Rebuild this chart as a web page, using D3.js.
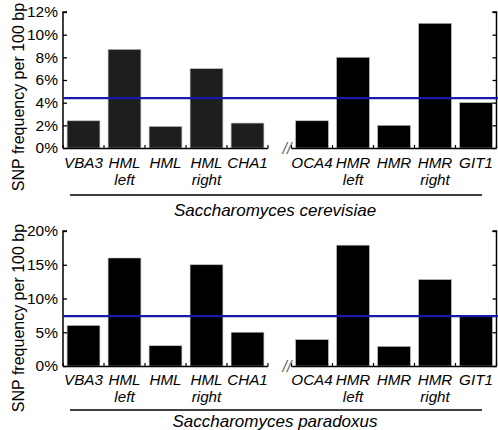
<!DOCTYPE html>
<html><head><meta charset="utf-8">
<script src="https://cdn.jsdelivr.net/npm/d3@7"></script>
<style>body{margin:0;background:#fff}svg{display:block}text{font-family:"Liberation Sans",Arial,sans-serif}</style>
</head><body><svg id="c" width="498" height="430"></svg>
<script>
const groupA = ["VBA3","HML left","HML","HML right","CHA1"];
const groupB = ["OCA4","HMR left","HMR","HMR right","GIT1"];
const labelLines = {"VBA3":["VBA3"],"HML left":["HML","left"],"HML":["HML"],"HML right":["HML","right"],"CHA1":["CHA1"],
  "OCA4":["OCA4"],"HMR left":["HMR","left"],"HMR":["HMR"],"HMR right":["HMR","right"],"GIT1":["GIT1"]};
const cerevisiaeA = [2.4, 8.7, 1.9, 7.0, 2.2];
const cerevisiaeB = [2.4, 8.0, 2.0, 11.0, 4.0];
const cerevisiaeMean = 4.4;
const paradoxusA = [6.0, 16.0, 3.0, 15.0, 5.0];
const paradoxusB = [3.9, 17.9, 2.9, 12.8, 7.5];
const paradoxusMean = 7.4;
const ticksTop = [0,2,4,6,8,10,12];
const ticksBottom = [0,5,10,15,20];
const speciesNames = ["Saccharomyces cerevisiae","Saccharomyces paradoxus"];
const yTitle = "SNP frequency per 100 bp";

const svg = d3.select("#c");
const xA = d3.scaleBand().domain(groupA).range([63,268]).paddingInner(0.2).paddingOuter(0.1);
const xB = d3.scaleBand().domain(groupB).range([291.5,496.5]).paddingInner(0.2).paddingOuter(0.1);

function panel(cfg){
  const g = svg.append("g");
  const y = d3.scaleLinear().domain([0,cfg.max]).range([cfg.y0,cfg.y1]);
  [[xA,groupA,cfg.a,cfg.colA],[xB,groupB,cfg.b,cfg.colB]].forEach(([x,cats,vals,col])=>{
    g.selectAll(null).data(cats).enter().append("rect")
      .attr("x",d=>x(d)).attr("width",x.bandwidth())
      .attr("y",(d,i)=>y(vals[i])).attr("height",(d,i)=>y(0)-y(vals[i]))
      .attr("fill",col).attr("stroke","#bbb").attr("stroke-width",0.6);
    const r = x.range();
    g.append("line").attr("x1",r[0]).attr("x2",r[1]).attr("y1",y(0)+0.5).attr("y2",y(0)+0.5)
      .attr("stroke","#000").attr("stroke-width",1.5);
    const bounds = cats.map(d=>x(d)-x.step()*x.paddingInner()/2).concat([r[1]]);
    g.selectAll(null).data(bounds).enter().append("line")
      .attr("x1",d=>d).attr("x2",d=>d).attr("y1",y(0)+0.5).attr("y2",y(0)-3)
      .attr("stroke","#000").attr("stroke-width",1.2);
    cats.forEach(d=>{
      const t = g.append("text").attr("x",x(d)+x.bandwidth()/2).attr("y",cfg.lab)
        .attr("text-anchor","middle").attr("font-size",15.2).attr("font-style","italic");
      labelLines[d].forEach((s,i)=>t.append("tspan").attr("x",x(d)+x.bandwidth()/2).attr("dy",i?16.5:0).text(s));
    });
  });
  const ax = g.append("g").attr("transform","translate(63,0)")
    .call(d3.axisRight(y).tickValues(cfg.ticks).tickSize(4).tickFormat(d=>d+"%"));
  ax.select(".domain").attr("stroke-width",1.5).attr("d",`M4,${cfg.y1}H0V${cfg.y0}`);
  ax.selectAll(".tick line").attr("stroke-width",1.3);
  ax.selectAll(".tick text").attr("x",-5).attr("text-anchor","end").attr("font-size",15.5)
    .attr("font-family","Liberation Sans, Arial, sans-serif").attr("fill","#000");
  const ax2 = g.append("g").attr("transform","translate(496.5,0)")
    .call(d3.axisLeft(y).tickValues(cfg.ticks).tickSize(4).tickFormat(""));
  ax2.select(".domain").attr("stroke-width",1.5).attr("d",`M-4,${cfg.y1}H0V${cfg.y0}`);
  ax2.selectAll(".tick line").attr("stroke-width",1.3);
  g.append("line").attr("x1",63).attr("x2",498).attr("y1",y(cfg.mean)).attr("y2",y(cfg.mean))
    .attr("stroke","#1a1aaa").attr("stroke-width",2.2);
  g.append("text").attr("x",287).attr("y",y(0)+6).attr("text-anchor","middle")
    .attr("font-size",16).attr("font-style","italic").attr("fill","#666").text("//");
  g.append("line").attr("x1",70).attr("x2",482).attr("y1",cfg.under).attr("y2",cfg.under)
    .attr("stroke","#000").attr("stroke-width",1.5);
  g.append("text").attr("x",275).attr("y",cfg.sp).attr("text-anchor","middle")
    .attr("font-size",17).attr("font-style","italic").text(cfg.species);
  g.append("text").attr("transform",`translate(24,${cfg.tc}) rotate(-90)`).attr("text-anchor","middle")
    .attr("font-size",16).text(yTitle);
}
panel({max:12,y0:148,y1:12,a:cerevisiaeA,b:cerevisiaeB,mean:cerevisiaeMean,ticks:ticksTop,
  colA:"#1e1e1e",colB:"#000",lab:168,under:195,sp:216,species:speciesNames[0],tc:97});
panel({max:20,y0:366,y1:231,a:paradoxusA,b:paradoxusB,mean:paradoxusMean,ticks:ticksBottom,
  colA:"#000",colB:"#000",lab:385,under:410,sp:427,species:speciesNames[1],tc:318});
</script></body></html>
